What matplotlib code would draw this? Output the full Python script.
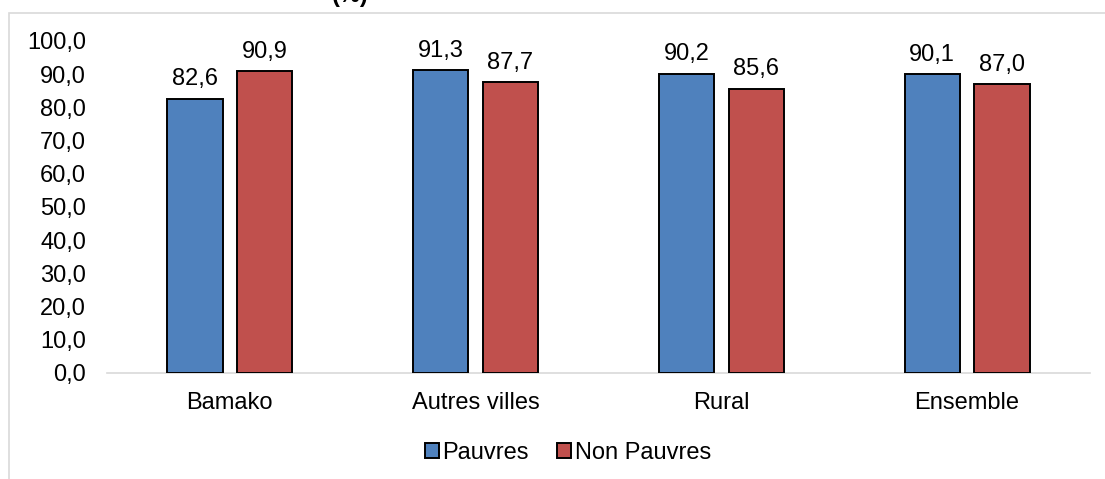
import matplotlib.pyplot as plt
import numpy as np
from matplotlib.patches import Rectangle

categories = ['Bamako', 'Autres villes', 'Rural', 'Ensemble']
pauvres = [82.6, 91.3, 90.2, 90.1]
non_pauvres = [90.9, 87.7, 85.6, 87.0]
yticks = [0, 10, 20, 30, 40, 50, 60, 70, 80, 90, 100]

plt.rcParams['font.family'] = ['Liberation Sans', 'DejaVu Sans']
fs = 17

fig = plt.figure(figsize=(11.05, 4.79), dpi=100)
ax = fig.add_axes([107/1105, 1 - 373/479, 983/1105, 332/479])

# light grey chart border (cut off on the right and bottom)
fig.patches.append(Rectangle((9/1105, -0.1), 1.2, 1.1 - 13/479, transform=fig.transFigure,
                             fill=False, edgecolor='#D9D9D9', linewidth=1.2))

x = np.arange(len(categories))
w = 0.224
off = 0.142
b1 = ax.bar(x - off, pauvres, w, color='#4F81BD', edgecolor='black', linewidth=1.4, label='Pauvres', zorder=3)
b2 = ax.bar(x + off, non_pauvres, w, color='#C0504D', edgecolor='black', linewidth=1.4, label='Non Pauvres', zorder=3)

for bars in (b1, b2):
    for r in bars:
        v = r.get_height()
        ax.annotate(f'{v:.1f}'.replace('.', ','), (r.get_x() + r.get_width() / 2, v),
                    xytext=(0, 6), textcoords='offset points', ha='center', va='bottom', fontsize=fs)

ax.set_xlim(-0.5, 3.5)
ax.set_ylim(0, 100)
ax.set_yticks(yticks)
ax.set_yticklabels([f'{t:.1f}'.replace('.', ',') for t in yticks], fontsize=fs)
ax.set_xticks(x)
ax.set_xticklabels(categories, fontsize=fs)
ax.tick_params(axis='y', length=0, pad=15)
ax.tick_params(axis='x', length=0, pad=14)
for s in ['top', 'right', 'left']:
    ax.spines[s].set_visible(False)
ax.spines['bottom'].set_color('#D9D9D9')
ax.spines['bottom'].set_linewidth(1.2)
ax.patch.set_alpha(0)

fig.legend(loc='center', bbox_to_anchor=(568/1105, 1 - 453/479), ncol=2, frameon=False,
           fontsize=fs, handlelength=0.6, handleheight=0.6, handletextpad=0.15, columnspacing=1.2)

# cut-off title at the very top
fig.text(350/1105, 1 - 2/479, '(%)', ha='center', va='baseline', fontsize=fs, fontweight='bold')

fig.savefig('out.png', dpi=100)
